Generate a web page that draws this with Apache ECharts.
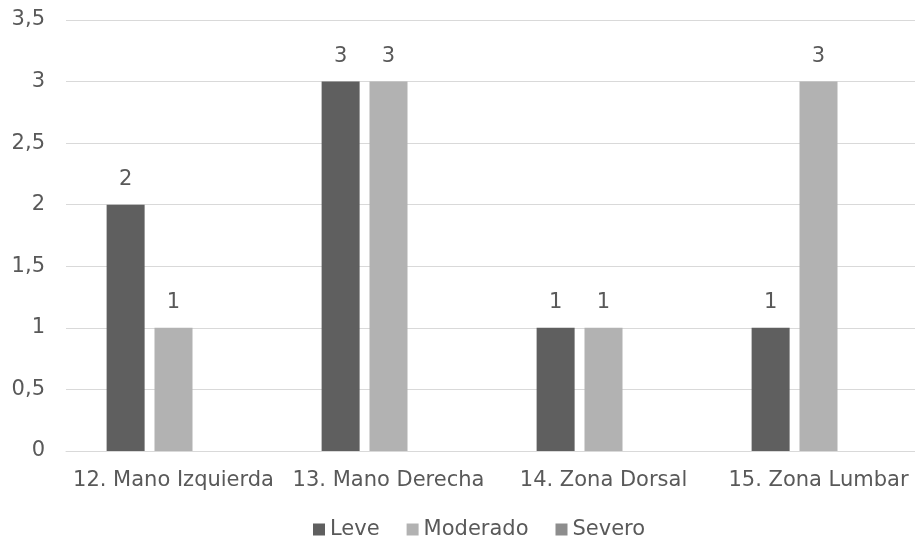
<!DOCTYPE html>
<html>
<head>
<meta charset="utf-8">
<script src="https://cdn.jsdelivr.net/npm/echarts@6/dist/echarts.min.js"></script>
<style>
  html, body { margin: 0; padding: 0; background: #ffffff; }
  #chart { width: 915px; height: 540px; }
</style>
</head>
<body>
<div id="chart"></div>
<script>
// Body zones and the count of cases at each severity level
const categories = ['12. Mano Izquierda', '13. Mano Derecha', '14. Zona Dorsal', '15. Zona Lumbar'];
const leve = [2, 3, 1, 1];
const moderado = [1, 3, 1, 3];
const severo = [0, 0, 0, 0];
const yTicks = [0, 0.5, 1, 1.5, 2, 2.5, 3, 3.5];

const FONT = '"DejaVu Sans", sans-serif';
const TEXT = '#595959';
const SIZE = 21;

function barSeries(name, data, color) {
  return {
    name: name,
    type: 'bar',
    data: data,
    barWidth: 38,
    barGap: '26%',
    itemStyle: { color: color },
    label: {
      show: true,
      position: 'top',
      distance: 15,
      color: TEXT,
      fontFamily: FONT,
      fontSize: SIZE,
      formatter: p => (p.value === 0 ? '' : String(p.value))
    }
  };
}

const chart = echarts.init(document.getElementById('chart'), null, { renderer: 'canvas' });
chart.setOption({
  animation: false,
  backgroundColor: '#ffffff',
  textStyle: { fontFamily: FONT },
  grid: {
    left: 66, top: 20, width: 860, height: 431,
    containLabel: false,
    outerBoundsMode: 'none'
  },
  legend: {
    data: ['Leve', 'Moderado', 'Severo'],
    left: 308,
    top: 514,
    itemWidth: 12,
    itemHeight: 12,
    itemGap: 27,
    icon: 'rect',
    textStyle: { color: TEXT, fontSize: SIZE, fontFamily: FONT }
  },
  xAxis: {
    type: 'category',
    data: categories,
    axisLine: { show: true, lineStyle: { color: '#d9d9d9', width: 1 } },
    axisTick: { show: false },
    axisLabel: { color: TEXT, fontSize: SIZE, fontFamily: FONT, margin: 19, interval: 0 }
  },
  yAxis: {
    type: 'value',
    min: yTicks[0],
    max: yTicks[yTicks.length - 1],
    interval: 0.5,
    axisLine: { show: false },
    axisTick: { show: false },
    splitLine: { lineStyle: { color: '#d9d9d9', width: 1 } },
    axisLabel: {
      color: TEXT,
      fontSize: SIZE,
      fontFamily: FONT,
      margin: 21,
      formatter: v => String(v).replace('.', ',')
    }
  },
  series: [
    barSeries('Leve', leve, '#5f5f5f'),
    barSeries('Moderado', moderado, '#b2b2b2'),
    barSeries('Severo', severo, '#8d8d8d')
  ]
});
</script>
</body>
</html>
